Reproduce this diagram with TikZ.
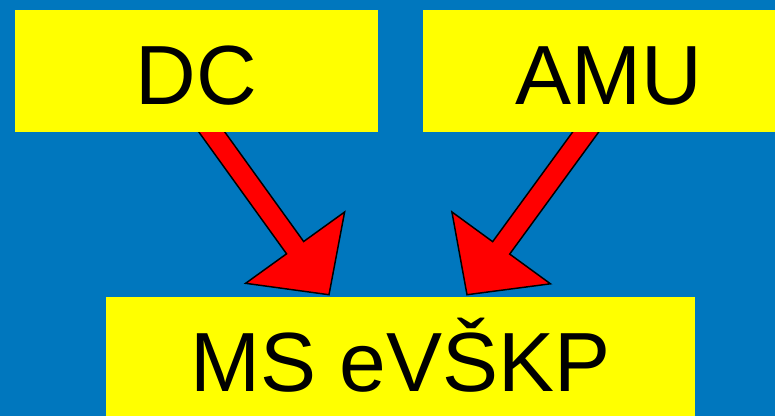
\documentclass[tikz,border=0pt]{standalone}
\usepackage{fontspec}
\setmainfont{Liberation Sans}
\usetikzlibrary{calc,backgrounds}
\definecolor{slideblue}{RGB}{0,119,190}
\definecolor{boxyellow}{RGB}{255,255,0}
\definecolor{arrowred}{RGB}{255,0,0}

\tikzset{
	box/.style={fill=boxyellow, inner sep=0pt, minimum height=91.5pt, text height=51pt, text depth=0pt, font=\fontsize{63}{75}\selectfont},
	blockarrow/.style={fill=arrowred, draw=black, line width=1.1pt, line join=miter}
}
% block arrow from #1 (tail) to #2 (tip)
\newcommand{\blockarr}[2]{%
	\coordinate (base) at ($(#2)!43.5pt!(#1)$);
	\coordinate (tail) at ($(#1)!-8pt!(#2)$);
	\draw[blockarrow] ($(tail)!7.9pt!90:(#2)$) -- ($(base)!7.9pt!90:(#2)$) -- ($(base)!45.75pt!90:(#2)$) -- (#2) -- ($(base)!45.75pt!-90:(#2)$) -- ($(base)!7.9pt!-90:(#2)$) -- ($(tail)!7.9pt!-90:(#2)$) -- cycle;
}

\begin{document}
\begin{tikzpicture}[x=0.75pt,y=0.75pt,yscale=-1,xscale=1]
		\useasboundingbox (0,0) rectangle (775,416);
		\clip (0,0) rectangle (775,416);
		\node[box, minimum width=272.25pt] (dc) at (196.5,71) {DC};
		\node[box, minimum width=278.25pt] (amu) at (608.5,71) {AMU};
		\node[box, minimum width=442pt] (ms) at (400.5,358) {MS eVŠKP};
		\coordinate (dcout) at ($(dc.south)+(15.5,0)$);
		\coordinate (dctip) at ($(ms.north)+(-71.5,-2)$);
		\coordinate (amuout) at ($(amu.south)+(-23,0)$);
		\coordinate (amutip) at ($(ms.north)+(66.5,-2)$);
		\begin{scope}[on background layer]
			\fill[slideblue] (0,0) rectangle (775,416);
			\blockarr{dcout}{dctip}
			\blockarr{amuout}{amutip}
		\end{scope}
\end{tikzpicture}
\end{document}
